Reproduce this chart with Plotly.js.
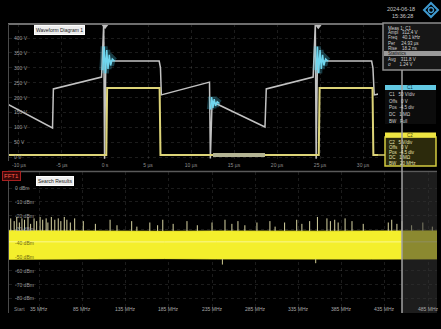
<!DOCTYPE html>
<html>
<head>
<meta charset="utf-8">
<script src="https://cdn.plot.ly/plotly-3.0.1.min.js"></script>
<style>
  html, body { margin: 0; padding: 0; background: #000; }
  #scope { width: 441px; height: 329px; }
</style>
</head>
<body>
<div id="scope"></div>
<script>
// ---- Time-domain diagram (C1 drain voltage, C2 gate drive) ----
const timeTicks = [-10, -5, 0, 5, 10, 15, 20, 25, 30];           // µs
const timeTickText = ['-10 µs', '-5 µs', '0 s', '5 µs', '10 µs', '15 µs', '20 µs', '25 µs', '30 µs'];
const voltTicks = [450, 400, 350, 300, 250, 200, 150, 100, 50, 0];
const voltTickText = ['450 V', '400 V', '350 V', '300 V', '250 V', '200 V', '150 V', '100 V', '50 V', '0 V'];

// C1 drain voltage (µs, V)
const drainTime = [-11.2, -6.1, -6.0, -0.4, -0.15, -0.05, 0.1, 0.6, 6.3, 6.45, 6.55, 12.0, 12.15, 12.25, 12.45, 12.9, 18.6, 18.75, 24.2, 24.45, 24.55, 24.7, 25.2, 31.0, 31.15, 31.3, 31.8];
const drainVolt = [176, 98, 229, 269, 447, -6, 330, 323, 323, 300, 209, 252, 252, -5, 188, 180, 101, 229, 269, 447, -6, 330, 323, 323, 300, 209, 212];

// C1 ringing after each switching edge (µs, V)
const ringATime = [-0.25, -0.1, 0.05, 0.2, 0.35, 0.5, 0.65, 0.85, 1.1];
const ringAVolt = [292, 372, 282, 360, 296, 344, 308, 330, 323];
const ringBTime = [12.25, 12.4, 12.55, 12.7, 12.85, 13.05, 13.3];
const ringBVolt = [160, 202, 165, 195, 172, 186, 180];
const ringCTime = [24.55, 24.7, 24.85, 25.0, 25.15, 25.3, 25.45, 25.65, 25.9];
const ringCVolt = [292, 372, 282, 360, 296, 344, 308, 330, 323];

// C2 gate drive (µs, V)
const gateTime = [-11.2, 0.15, 0.25, 6.35, 6.45, 24.85, 24.95, 31.1, 31.2, 31.8];
const gateVolt = [7, 7, 232, 232, 7, 7, 232, 232, 7, 7];

// FFT gate window on C2
const fftGateStart = 12.56, fftGateEnd = 18.6, fftGateLevel = 7;

// ---- Spectrum diagram (FFT1) ----
const freqTicks = [35, 85, 135, 185, 235, 285, 335, 385, 435, 485]; // MHz
const freqTickText = ['35 MHz', '85 MHz', '135 MHz', '185 MHz', '235 MHz', '285 MHz', '335 MHz', '385 MHz', '435 MHz', '485 MHz'];
const levelTicks = [0, -10, -20, -30, -40, -50, -60, -70, -80];   // dBm
const levelTickText = ['0 dBm', '-10 dBm', '-20 dBm', '-30 dBm', '-40 dBm', '-50 dBm', '-60 dBm', '-70 dBm', '-80 dBm'];

// noise floor envelope (MHz, dBm)
const floorFreq = [0, 60, 120, 180, 240, 300, 360, 420, 495.4];
const floorTop = [-31.0, -31.3, -31.1, -31.4, -31.2, -31.0, -31.3, -31.2, -31.1];
const floorBottom = [-51.6, -51.3, -51.5, -51.2, -51.4, -51.6, -51.3, -51.5, -51.4];
const floorTrace = [-39.0, -39.2, -38.9, -39.1, -39.0, -39.2, -38.9, -39.1, -39.0];

// spurs above the floor (MHz, dBm)
const spurFreq = [2, 6, 9, 12, 15, 18, 22, 25, 29, 32, 36, 39, 43, 45, 49, 53, 57, 60, 64, 67, 71, 76,
                  86, 100, 117, 125, 142, 148, 163, 172, 178, 190, 206, 218, 235,
                  250, 258, 265, 273, 287, 302, 308, 319, 333, 339, 348, 357, 368, 372, 377, 381, 389, 397, 410,
                  439, 443, 449, 455, 466, 479, 490];
const spurPeak = [-22, -24, -21, -25, -22, -23, -21, -26, -22, -24, -21, -23, -22, -25, -21, -23, -22, -24, -21, -23, -25, -22,
                  -24, -26, -23, -27, -24, -28, -25, -27, -23, -26, -24, -27, -25,
                  -23, -26, -24, -27, -25, -24, -28, -25, -23, -26, -24, -21, -22, -24, -23, -25, -22, -24, -26,
                  -25, -23, -26, -24, -27, -25, -28];
// dips below the floor (MHz, dBm)
const dipFreq = [247, 355];
const dipLow = [-55.5, -54.5];

const W = 441, H = 329;
const px = v => v / W;          // pixel column -> paper x
const py = v => 1 - v / H;      // pixel row -> paper y

const FONT = 'Liberation Sans, Arial, sans-serif';

function segments(xs, y0s, y1s) {
  const x = [], y = [];
  xs.forEach((f, i) => {
    x.push(f, f, null);
    y.push(Array.isArray(y0s) ? y0s[i] : y0s, y1s[i], null);
  });
  return { x, y };
}
const spurs = segments(spurFreq, -31.2, spurPeak);
const dips = segments(dipFreq, -51.4, dipLow);

const traces = [
  // time domain
  { x: drainTime, y: drainVolt, xaxis: 'x', yaxis: 'y', mode: 'lines',
    line: { color: '#c2c2c2', width: 1.5 }, hoverinfo: 'skip' },
  { x: gateTime, y: gateVolt, xaxis: 'x', yaxis: 'y', mode: 'lines',
    line: { color: '#ddd478', width: 2 }, hoverinfo: 'skip' },
  { x: [fftGateStart, fftGateEnd], y: [fftGateLevel, fftGateLevel], xaxis: 'x', yaxis: 'y', mode: 'lines',
    line: { color: '#b4b494', width: 4 }, hoverinfo: 'skip' },
];
[[ringATime, ringAVolt], [ringBTime, ringBVolt], [ringCTime, ringCVolt]].forEach(([t, v]) => {
  traces.push({ x: t, y: v, xaxis: 'x', yaxis: 'y', mode: 'lines',
    line: { color: 'rgba(80,200,230,0.3)', width: 7 }, hoverinfo: 'skip' });
  traces.push({ x: t, y: v, xaxis: 'x', yaxis: 'y', mode: 'lines',
    line: { color: '#6fd6ee', width: 1.5 }, hoverinfo: 'skip' });
});
traces.push({ x: [0, 24.8], y: [440, 440], xaxis: 'x', yaxis: 'y', mode: 'markers',
  marker: { symbol: 'triangle-down', size: 6, color: '#bdbdbd' }, cliponaxis: false, hoverinfo: 'skip' });

// spectrum
traces.push(
  { x: floorFreq, y: floorBottom, xaxis: 'x2', yaxis: 'y2', mode: 'lines',
    line: { color: '#f4ef2c', width: 1 }, hoverinfo: 'skip' },
  { x: floorFreq, y: floorTop, xaxis: 'x2', yaxis: 'y2', mode: 'lines', fill: 'tonexty',
    fillcolor: '#f4ef2c', line: { color: '#f4ef2c', width: 1 }, hoverinfo: 'skip' },
  { x: floorFreq, y: floorTrace, xaxis: 'x2', yaxis: 'y2', mode: 'lines',
    line: { color: '#fbf890', width: 1 }, hoverinfo: 'skip' },
  { x: spurs.x, y: spurs.y, xaxis: 'x2', yaxis: 'y2', mode: 'lines',
    line: { color: '#d8d4a2', width: 1 }, hoverinfo: 'skip' },
  { x: dips.x, y: dips.y, xaxis: 'x2', yaxis: 'y2', mode: 'lines',
    line: { color: '#cfcb90', width: 1 }, hoverinfo: 'skip' }
);

const gridStyle = { showgrid: true, gridcolor: 'rgba(255,255,255,0.11)', griddash: 'dot', gridwidth: 1,
                    zeroline: false, showline: false, ticks: '' };

const annotations = [];
// volt labels drawn inside the plot
voltTicks.forEach((v, i) => {
  annotations.push({ xref: 'paper', yref: 'y', x: px(12), y: v, xanchor: 'left',
    yanchor: i === 0 ? 'top' : 'middle', text: voltTickText[i], showarrow: false,
    font: { family: FONT, size: 5, color: '#9c9c9c' } });
});
levelTicks.forEach((v, i) => {
  const inFloor = v <= -31.2 && v >= -51.4;
  annotations.push({ xref: 'paper', yref: 'y2', x: px(13), y: v, xanchor: 'left', yanchor: 'middle',
    text: levelTickText[i], showarrow: false,
    font: { family: FONT, size: 5, color: inFloor ? '#6e6a10' : '#9c9c9c' } });
});
freqTicks.forEach((f, i) => {
  annotations.push({ xref: 'x2', yref: 'paper', x: f, y: py(309), xanchor: 'center', yanchor: 'middle',
    text: freqTickText[i], showarrow: false, font: { family: FONT, size: 5, color: '#a8a8a8' } });
});
annotations.push(
  { xref: 'paper', yref: 'paper', x: px(12), y: py(309), xanchor: 'left', yanchor: 'middle', text: 'Start',
    showarrow: false, font: { family: FONT, size: 5, color: '#8a8a8a' } },
  // diagram labels
  { xref: 'paper', yref: 'paper', x: px(34), y: py(29.5), xanchor: 'left', yanchor: 'middle',
    text: 'Waveform Diagram 1', showarrow: false, bgcolor: '#ededed', bordercolor: '#ffffff',
    borderpad: 1, font: { family: FONT, size: 5, color: '#202020' } },
  { xref: 'paper', yref: 'paper', x: px(36), y: py(180.5), xanchor: 'left', yanchor: 'middle',
    text: 'Search Results', showarrow: false, bgcolor: '#ededed', bordercolor: '#ffffff',
    borderpad: 1, font: { family: FONT, size: 5, color: '#202020' } },
  { xref: 'paper', yref: 'paper', x: px(2), y: py(176), xanchor: 'left', yanchor: 'middle',
    text: 'FFT1', showarrow: false, bgcolor: '#3a0808', bordercolor: '#a82020',
    borderpad: 1, font: { family: FONT, size: 6, color: '#ff5a4a' } },
  // date / time
  { xref: 'paper', yref: 'paper', x: px(401), y: py(9), xanchor: 'center', yanchor: 'middle',
    text: '2024-06-18', showarrow: false, font: { family: FONT, size: 5.5, color: '#c8c8c8' } },
  { xref: 'paper', yref: 'paper', x: px(402), y: py(16), xanchor: 'center', yanchor: 'middle',
    text: '15:36:28', showarrow: false, font: { family: FONT, size: 5.5, color: '#c8c8c8' } }
);

// measurement box
const measRows = ['Meas 1: C1', 'Ampl   312.4 V', 'Freq    40.1 kHz', 'Per     24.93 µs', 'Rise    18.2 ns', 'Statistics', 'Avg    311.8 V', 'σ       1.24 V'];
const measRowY = [28, 33, 38, 43, 48, 53.5, 59, 64];
measRows.forEach((t, i) => {
  annotations.push({ xref: 'paper', yref: 'paper', x: px(386), y: py(measRowY[i]), xanchor: 'left', yanchor: 'middle',
    text: t, showarrow: false, font: { family: FONT, size: 4.5, color: i === 5 ? '#111' : '#d0d0d0' } });
});
// channel boxes
const c1Rows = ['C1   50 V/div', 'Offs   0 V', 'Pos  -4.5 div', 'DC   1 MΩ', 'BW   Full'];
const c2Rows = ['C2   5 V/div', 'Offs   0 V', 'Pos  -4.5 div', 'DC   1 MΩ', 'BW   20 MHz'];
c1Rows.forEach((t, i) => {
  annotations.push({ xref: 'paper', yref: 'paper', x: px(387), y: py(95 + i * 6.5), xanchor: 'left', yanchor: 'middle',
    text: t, showarrow: false, font: { family: FONT, size: 4.5, color: '#cfcfcf' } });
});
c2Rows.forEach((t, i) => {
  annotations.push({ xref: 'paper', yref: 'paper', x: px(387), y: py(142 + i * 5.3), xanchor: 'left', yanchor: 'middle',
    text: t, showarrow: false, font: { family: FONT, size: 4.5, color: '#e6e2b0' } });
});
annotations.push(
  { xref: 'paper', yref: 'paper', x: px(410), y: py(87.5), xanchor: 'center', yanchor: 'middle',
    text: 'C1', showarrow: false, font: { family: FONT, size: 4.5, color: '#0b3a48' } },
  { xref: 'paper', yref: 'paper', x: px(410), y: py(135), xanchor: 'center', yanchor: 'middle',
    text: 'C2', showarrow: false, font: { family: FONT, size: 4.5, color: '#4a4608' } }
);

const rect = (x0, y0, x1, y1, style) => Object.assign({ type: 'rect', xref: 'paper', yref: 'paper',
  x0: px(x0), x1: px(x1), y0: py(y1), y1: py(y0) }, style);
const hline = (x0, x1, y, color, width) => ({ type: 'line', xref: 'paper', yref: 'paper',
  x0: px(x0), x1: px(x1), y0: py(y), y1: py(y), line: { color, width } });
const vline = (x, y0, y1, color, width) => ({ type: 'line', xref: 'paper', yref: 'paper',
  x0: px(x), x1: px(x), y0: py(y0), y1: py(y1), line: { color, width } });

const shapes = [
  // frames
  hline(8, 384, 24, '#6e6e6e', 2),
  vline(8.5, 24, 161, '#4a4a4a', 1),
  hline(8, 437, 171.5, '#5a5a5a', 1.5),
  vline(8.5, 172, 313, '#4a4a4a', 1),
  // measurement box
  rect(383, 23, 442, 70, { fillcolor: '#161616', line: { color: '#8c8c8c', width: 1.5 } }),
  rect(384, 51, 442, 56, { fillcolor: '#9a9a9a', line: { width: 0 } }),
  // C1 box
  rect(385, 85, 436, 90, { fillcolor: '#62c8e2', line: { width: 0 } }),
  rect(385, 90, 436, 124, { fillcolor: '#0c0c0c', line: { width: 0 } }),
  // C2 box
  rect(385, 137, 436, 166, { fillcolor: '#2c2a0c', line: { color: '#d4cc40', width: 1.5 } }),
  rect(385, 132.5, 436, 137.5, { fillcolor: '#efe642', line: { width: 0 } }),
  // C2 lead-in to its box
  hline(376, 385, 155, '#d8d070', 1.5),
  // cursor and region past it
  rect(402, 172, 437, 313, { fillcolor: 'rgba(52,52,52,0.55)', line: { width: 0 }, layer: 'above' }),
  vline(402, 70, 313, '#a2a2a2', 1.5),
  // logo
  { type: 'path', xref: 'paper', yref: 'paper', layer: 'above',
    path: `M ${px(431)} ${py(3)} L ${px(438)} ${py(10)} L ${px(431)} ${py(17)} L ${px(424)} ${py(10)} Z`,
    line: { color: '#3f9ad0', width: 2 }, fillcolor: 'rgba(0,0,0,0)' },
  { type: 'circle', xref: 'paper', yref: 'paper', x0: px(428.5), x1: px(433.5), y0: py(12.5), y1: py(7.5),
    line: { color: '#3f9ad0', width: 1.5 } }
];

const layout = {
  width: W, height: H,
  margin: { l: 0, r: 0, t: 0, b: 0, pad: 0 },
  paper_bgcolor: '#000', plot_bgcolor: '#000',
  showlegend: false,
  font: { family: FONT, color: '#aaa' },
  xaxis: Object.assign({}, gridStyle, {
    domain: [px(9), px(378)], range: [-11.16, 31.74], anchor: 'y',
    tickvals: timeTicks, ticktext: timeTickText, tickfont: { size: 5, color: '#8e8e8e' },
    ticklen: 0, ticklabelstandoff: 1
  }),
  yaxis: Object.assign({}, gridStyle, {
    domain: [py(160), py(24)], range: [-10, 447.5], anchor: 'x',
    tickvals: voltTicks, showticklabels: false
  }),
  xaxis2: Object.assign({}, gridStyle, {
    domain: [px(9), px(437)], range: [0, 495.4], anchor: 'y2',
    tickvals: freqTicks, showticklabels: false
  }),
  yaxis2: Object.assign({}, gridStyle, {
    domain: [py(313), py(172)], range: [-90.6, 11.6], anchor: 'x2',
    tickvals: levelTicks, showticklabels: false
  }),
  shapes, annotations
};

Plotly.newPlot('scope', traces, layout, { staticPlot: true, displayModeBar: false });
</script>
</body>
</html>
